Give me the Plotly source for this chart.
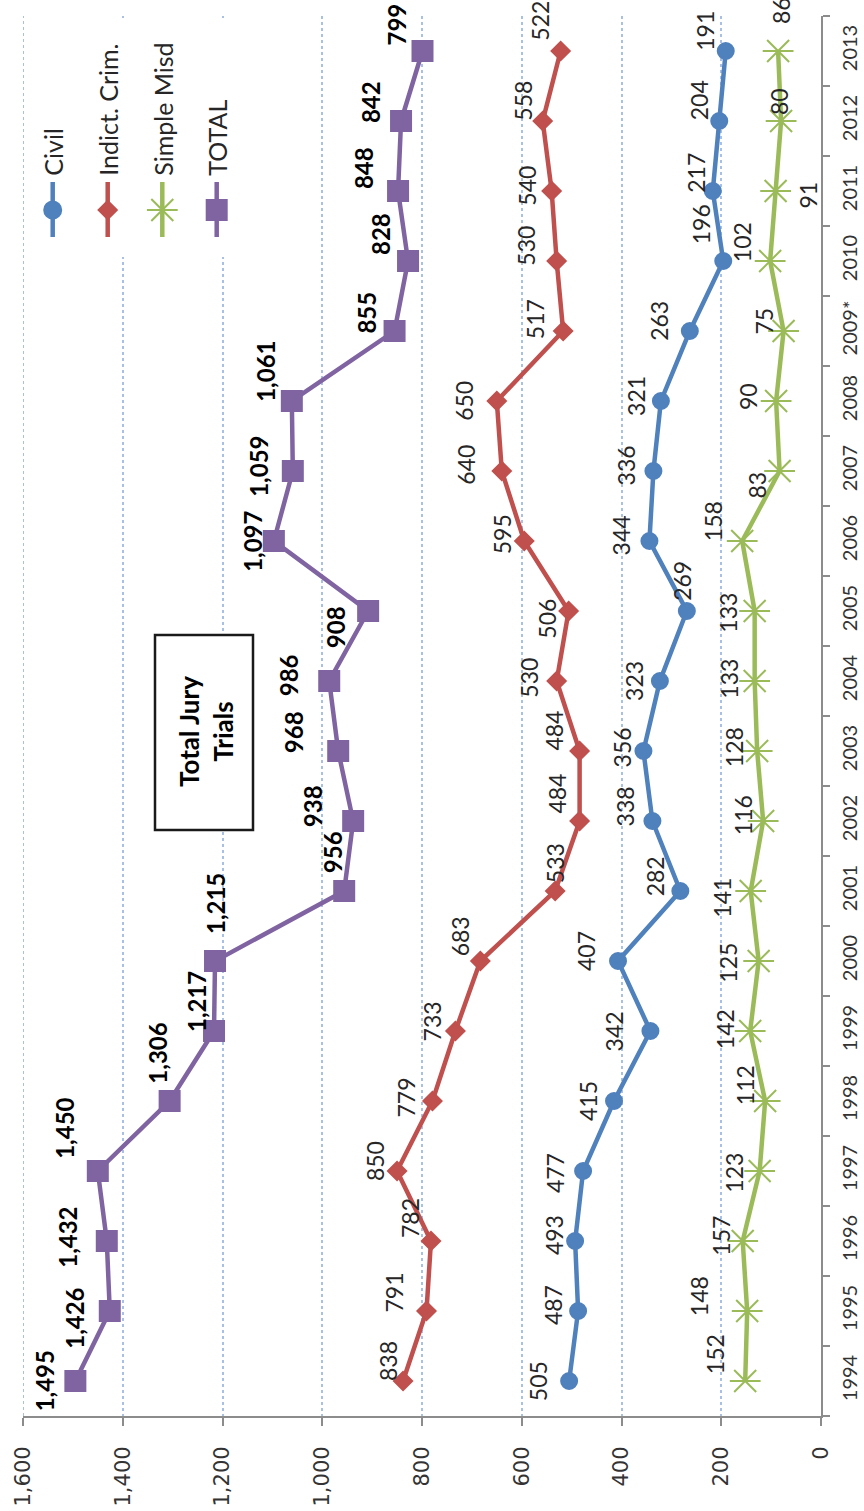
import plotly.graph_objects as go

# ---------------- data ----------------
years = ["1994", "1995", "1996", "1997", "1998", "1999", "2000", "2001", "2002", "2003",
         "2004", "2005", "2006", "2007", "2008", "2009*", "2010", "2011", "2012", "2013"]
civil = [505, 487, 493, 477, 415, 342, 407, 282, 338, 356, 323, 269, 344, 336, 321, 263, 196, 217, 204, 191]
crim = [838, 791, 782, 850, 779, 733, 683, 533, 484, 484, 530, 506, 595, 640, 650, 517, 530, 540, 558, 522]
misd = [152, 148, 157, 123, 112, 142, 125, 141, 116, 128, 133, 133, 158, 83, 90, 75, 102, 91, 80, 86]
total = [1495, 1426, 1432, 1450, 1306, 1217, 1215, 956, 938, 968, 986, 908, 1097, 1059, 1061, 855, 828, 848, 842, 799]
value_ticks = [0, 200, 400, 600, 800, 1000, 1200, 1400, 1600]
series_names = ["Civil", "Indict. Crim.", "Simple Misd", "TOTAL"]
box_text = "Total Jury<br>Trials"

# ---------------- styles / label placement (pixels) ----------------
C_CIVIL, C_CRIM, C_MISD, C_TOTAL = "#4F81BD", "#C0504D", "#9BBB59", "#8064A2"
LBL_FONT = "Lato, 'Open Sans', sans-serif"
AX_FONT = "'DejaVu Sans', Verdana, sans-serif"
GRID_COL = "#a9c0e6"

civil_off = [(-31, 0), (-25, -6), (-21, -6), (-28, 2), (-26, 0), (-36, 0), (-32, -10), (-25, -15),
             (-27, -15), (-21, -4), (-26, 0), (-5, -30), (-28, -6), (-27, -6), (-25, -5), (-31, -10),
             (-22, -37), (-17, -18), (-20, -21), (-21, -20)]
crim_off = [(-15, -20), (-32, -19), (-21, -23), (-22, -10), (-26, -4), (-23, -10), (-20, -25), (0, -28),
            (-23, -27), (-26, -20), (-28, -3), (-22, 8), (-22, -7), (-36, -6), (-33, 0), (-28, -12),
            (-31, -15), (-25, -5), (-20, -20), (-21, -30)]
misd_off = [(-30, -27), (-48, -15), (-22, -5), (-26, 2), (-20, -16), (-25, -2), (-31, 2), (-29, 7),
            (-20, -6), (-23, -4), (-26, -2), (-27, 2), (-29, -20), (-23, 14), (-28, -4), (-20, -10),
            (-28, -19), (32, 4), (-2, -19), (3, -40)]
total_off = [(-31, 0), (-36, 7), (-40, -4), (-34, -43), (-13, -48), (-18, -29), (0, -57), (-12, -39),
             (-41, -15), (-45, -19), (-41, -6), (-33, 16), (-22, 0), (-35, -5), (-27, -30), (-29, -18),
             (-28, -27), (-35, -23), (-31, -19), (-27, -26)]

# plot-area geometry in page pixels
PL, PR, PT, PB = 23, 821, 16, 1416
W, H = 864, 1511


def vx(px):  # page x pixel -> value on the (reversed) value axis
    return (PR - px) * 1600.0 / (PR - PL)


def cy(py):  # page y pixel -> category index
    return (PB - py) / ((PB - PT) / 20.0) - 0.5


fig = go.Figure()


def add_series(vals, name, color, symbol, msize, extra=None):
    fig.add_trace(go.Scatter(
        x=vals, y=years, mode="lines+markers", name=name,
        line=dict(color=color, width=4.5),
        marker=dict(symbol=symbol, size=msize, color=color,
                    line=dict(color=color, width=2)),
        showlegend=False, cliponaxis=False))
    if extra:
        fig.add_trace(go.Scatter(
            x=vals, y=years, mode="markers", name=name,
            marker=dict(symbol=extra, size=msize, color=color, line=dict(color=color, width=2)),
            showlegend=False, hoverinfo="skip", cliponaxis=False))


add_series(civil, series_names[0], C_CIVIL, "circle", 16)
add_series(crim, series_names[1], C_CRIM, "diamond", 14)
add_series(misd, series_names[2], C_MISD, "x-thin-open", 22, extra="line-ew-open")
add_series(total, series_names[3], C_TOTAL, "square", 20)

annotations = []


def add_labels(vals, offs, bold=False):
    for i, (v, (dx, dy)) in enumerate(zip(vals, offs)):
        txt = f"{v:,}"
        annotations.append(dict(
            x=v, y=i, xref="x", yref="y", text=(f"<b>{txt}</b>" if bold else txt),
            showarrow=False, textangle=-90, xanchor="center", yanchor="middle",
            xshift=dx, yshift=-dy,
            font=dict(family=LBL_FONT, size=24 if bold else 23, color="#000000" if bold else "#262626")))


add_labels(civil, civil_off)
add_labels(crim, crim_off)
add_labels(misd, misd_off)
add_labels(total, total_off, bold=True)

# ---------- manual (rotated) legend, drawn on a pixel-scaled overlay axis ----------
leg_x = [52.7, 107.7, 162.3, 216.7]
leg_cols = [C_CIVIL, C_CRIM, C_MISD, C_TOTAL]
leg_sym = ["circle", "diamond", "x-thin-open", "square"]
leg_size = [17, 14, 22, 20]
for lx, col, sym, sz, nm in zip(leg_x, leg_cols, leg_sym, leg_size, series_names):
    fig.add_trace(go.Scatter(x=[lx, lx], y=[182, 237], mode="lines", xaxis="x2", yaxis="y2",
                             line=dict(color=col, width=4.5), showlegend=False, hoverinfo="skip"))
    fig.add_trace(go.Scatter(x=[lx], y=[210], mode="markers", xaxis="x2", yaxis="y2",
                             marker=dict(symbol=sym, size=sz, color=col, line=dict(color=col, width=2)),
                             showlegend=False, hoverinfo="skip"))
    if sym == "x-thin-open":
        fig.add_trace(go.Scatter(x=[lx], y=[210], mode="markers", xaxis="x2", yaxis="y2",
                                 marker=dict(symbol="line-ew-open", size=sz, color=col,
                                             line=dict(color=col, width=2)),
                                 showlegend=False, hoverinfo="skip"))
    annotations.append(dict(x=lx, y=178, xref="x2", yref="y2", text=nm, showarrow=False,
                            textangle=-90, xanchor="center", yanchor="bottom",
                            font=dict(family=LBL_FONT, size=25, color="#262626")))

annotations.append(dict(x=206, y=732, xref="x2", yref="y2", text=f"<b>{box_text}</b>",
                        showarrow=False, textangle=-90, xanchor="center", yanchor="middle",
                        font=dict(family=LBL_FONT, size=26, color="#000000")))

shapes = [
    dict(type="line", xref="x", yref="paper", x0=1600, x1=1600, y0=0, y1=1,
         line=dict(color=GRID_COL, width=2, dash="dot"), layer="below"),
    dict(type="rect", xref="x", yref="y", x0=vx(30), x1=vx(237), y0=cy(18), y1=cy(257),
         fillcolor="white", line=dict(width=0), layer="between"),
    dict(type="rect", xref="x", yref="y", x0=vx(155), x1=vx(253), y0=cy(635), y1=cy(830),
         fillcolor="white", line=dict(color="#1a1a1a", width=2.5), layer="between"),
]

fig.update_layout(
    width=W, height=H,
    margin=dict(l=PL, r=W - PR, t=PT, b=H - PB, autoexpand=False),
    paper_bgcolor="white", plot_bgcolor="white",
    showlegend=False,
    annotations=annotations, shapes=shapes,
    xaxis=dict(range=[1600, 0], tickvals=value_ticks, tickformat=",d", tickangle=-90,
               tickfont=dict(family=AX_FONT, size=21, color="#333333"),
               showgrid=True, gridcolor=GRID_COL, griddash="dot", gridwidth=2,
               showline=True, linecolor="#8c8c8c", linewidth=2,
               ticks="outside", ticklen=8, tickwidth=2, tickcolor="#8c8c8c",
               zeroline=False, ticklabelstandoff=12, fixedrange=True, automargin=False),
    yaxis=dict(type="category", categoryorder="array", categoryarray=years,
               range=[-0.5, 19.5], side="right", tickangle=-90,
               tickfont=dict(family=LBL_FONT, size=20, color="#333333"),
               showgrid=False, showline=True, linecolor="#8c8c8c", linewidth=2,
               ticks="outside", ticklen=7, tickwidth=2, tickcolor="#8c8c8c",
               tickson="boundaries", zeroline=False, ticklabelstandoff=10, fixedrange=True,
               automargin=False),
    xaxis2=dict(overlaying="x", range=[PL, PR], visible=False, anchor="y2", fixedrange=True),
    yaxis2=dict(overlaying="y", range=[PB, PT], visible=False, anchor="x2", fixedrange=True),
)

fig.write_html("out.html", config={"displayModeBar": False},
               post_script="document.body.style.margin='0';document.body.style.overflow='hidden';")
